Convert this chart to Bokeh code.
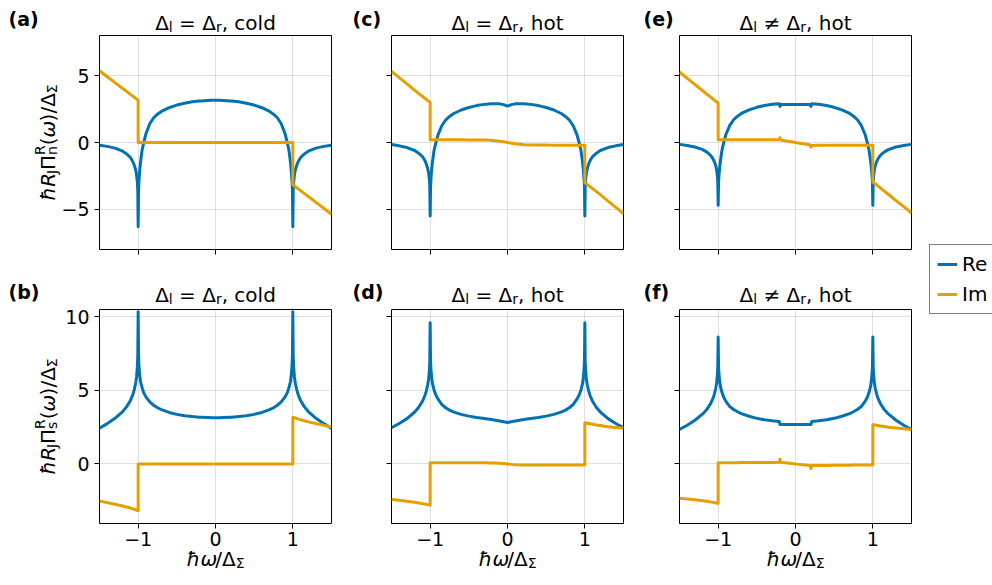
import math
from bokeh.plotting import figure
from bokeh.models import Range1d, FixedTicker, Legend, LegendItem, GridBox, ColumnDataSource
from bokeh.layouts import row, column
from bokeh.core.properties import value
from bokeh.embed import file_html
from bokeh.resources import INLINE

# ---------------- data ----------------
omega = [-1.5, -1.4, -1.3, -1.2, -1.15, -1.1, -1.07, -1.05, -1.03, -1.02, -1.01, -1.005, -1.0, -1.0,
         -0.995, -0.99, -0.98, -0.97, -0.95, -0.93, -0.9, -0.85, -0.8, -0.75, -0.7, -0.6, -0.5, -0.4, -0.3,
         -0.21, -0.2, -0.19, -0.1, -0.05,
         0.0,
         0.05, 0.1, 0.19, 0.2, 0.21, 0.3, 0.4, 0.5, 0.6, 0.7, 0.75, 0.8, 0.85, 0.9, 0.93, 0.95, 0.97, 0.98,
         0.99, 0.995, 1.0, 1.0, 1.005, 1.01, 1.02, 1.03, 1.05, 1.07, 1.1, 1.15, 1.2, 1.3, 1.4, 1.5]

# (a) normal part, equal gaps, cold
re_a = [-0.2, -0.29, -0.42, -0.65, -0.85, -1.12, -1.42, -1.7, -2.1, -2.45, -3.0, -3.6, -6.3, -6.3,
        -3.6, -2.9, -2.1, -1.5, -0.6, -0.05, 0.65, 1.4, 1.85, 2.12, 2.32, 2.6, 2.8, 2.94, 3.04,
        3.1, 3.1, 3.11, 3.14, 3.15,
        3.15,
        3.15, 3.14, 3.11, 3.1, 3.1, 3.04, 2.94, 2.8, 2.6, 2.32, 2.12, 1.85, 1.4, 0.65, -0.05, -0.6, -1.5, -2.1,
        -2.9, -3.6, -6.3, -6.3, -3.6, -3.0, -2.45, -2.1, -1.7, -1.42, -1.12, -0.85, -0.65, -0.42, -0.29, -0.2]
im_a = [5.36, 4.92, 4.48, 4.04, 3.82, 3.6, 3.47, 3.38, 3.29, 3.25, 3.2, 3.18, 3.16, 0.0,
        0.0, 0.0, 0.0, 0.0, 0.0, 0.0, 0.0, 0.0, 0.0, 0.0, 0.0, 0.0, 0.0, 0.0, 0.0,
        0.0, 0.0, 0.0, 0.0, 0.0,
        0.0,
        0.0, 0.0, 0.0, 0.0, 0.0, 0.0, 0.0, 0.0, 0.0, 0.0, 0.0, 0.0, 0.0, 0.0, 0.0, 0.0, 0.0, 0.0,
        0.0, 0.0, 0.0, -3.16, -3.18, -3.2, -3.25, -3.29, -3.38, -3.47, -3.6, -3.82, -4.04, -4.48, -4.92, -5.36]

# (b) supercurrent part, equal gaps, cold
re_b = [2.43, 2.74, 3.1, 3.56, 3.88, 4.32, 4.7, 5.05, 5.55, 5.95, 6.65, 7.34, 10.35, 10.35,
        7.4, 6.71, 6.03, 5.62, 5.18, 4.87, 4.56, 4.22, 3.99, 3.82, 3.69, 3.5, 3.37, 3.28, 3.22,
        3.18, 3.17, 3.17, 3.15, 3.14,
        3.14,
        3.14, 3.15, 3.17, 3.17, 3.18, 3.22, 3.28, 3.37, 3.5, 3.69, 3.82, 3.99, 4.22, 4.56, 4.87, 5.18, 5.62, 6.03,
        6.71, 7.4, 10.35, 10.35, 7.34, 6.65, 5.95, 5.55, 5.05, 4.7, 4.32, 3.88, 3.56, 3.1, 2.74, 2.43]
im_b = [-2.52, -2.63, -2.74, -2.86, -2.93, -3.0, -3.05, -3.09, -3.13, -3.15, -3.16, -3.17, -3.18, 0.0,
        0.0, 0.0, 0.0, 0.0, 0.0, 0.0, 0.0, 0.0, 0.0, 0.0, 0.0, 0.0, 0.0, 0.0, 0.0,
        0.0, 0.0, 0.0, 0.0, 0.0,
        0.0,
        0.0, 0.0, 0.0, 0.0, 0.0, 0.0, 0.0, 0.0, 0.0, 0.0, 0.0, 0.0, 0.0, 0.0, 0.0, 0.0, 0.0, 0.0,
        0.0, 0.0, 0.0, 3.18, 3.17, 3.16, 3.15, 3.13, 3.09, 3.05, 3.0, 2.93, 2.86, 2.74, 2.63, 2.52]

# (c) normal part, equal gaps, hot
re_c = [-0.15, -0.25, -0.38, -0.6, -0.8, -1.05, -1.33, -1.6, -1.98, -2.3, -2.8, -3.3, -5.5, -5.5,
        -3.35, -2.75, -2.0, -1.45, -0.6, -0.1, 0.55, 1.25, 1.68, 1.95, 2.15, 2.43, 2.62, 2.76, 2.85,
        2.9, 2.9, 2.9, 2.89, 2.83,
        2.72,
        2.83, 2.89, 2.9, 2.9, 2.9, 2.85, 2.76, 2.62, 2.43, 2.15, 1.95, 1.68, 1.25, 0.55, -0.1, -0.6, -1.45, -2.0,
        -2.75, -3.35, -5.5, -5.5, -3.3, -2.8, -2.3, -1.98, -1.6, -1.33, -1.05, -0.8, -0.6, -0.38, -0.25, -0.15]
im_c = [5.32, 4.85, 4.38, 3.9, 3.67, 3.45, 3.31, 3.22, 3.13, 3.09, 3.04, 3.02, 3.0, 0.21,
        0.21, 0.21, 0.21, 0.21, 0.21, 0.21, 0.205, 0.205, 0.2, 0.2, 0.2, 0.2, 0.195, 0.19, 0.18,
        0.16, 0.155, 0.15, 0.1, 0.05,
        0.0,
        -0.05, -0.1, -0.15, -0.155, -0.16, -0.18, -0.19, -0.195, -0.2, -0.2, -0.2, -0.2, -0.205, -0.205, -0.21, -0.21, -0.21, -0.21,
        -0.21, -0.21, -0.21, -3.0, -3.02, -3.04, -3.09, -3.13, -3.22, -3.31, -3.45, -3.67, -3.9, -4.38, -4.85, -5.32]

# (d) supercurrent part, equal gaps, hot
re_d = [2.47, 2.75, 3.08, 3.53, 3.84, 4.26, 4.62, 4.95, 5.42, 5.78, 6.4, 6.95, 9.6, 9.6,
        7.0, 6.45, 5.84, 5.46, 5.03, 4.73, 4.42, 4.05, 3.82, 3.66, 3.54, 3.37, 3.25, 3.16, 3.09,
        3.02, 3.01, 3.0, 2.92, 2.87,
        2.82,
        2.87, 2.92, 3.0, 3.01, 3.02, 3.09, 3.16, 3.25, 3.37, 3.54, 3.66, 3.82, 4.05, 4.42, 4.73, 5.03, 5.46, 5.84,
        6.45, 7.0, 9.6, 9.6, 6.95, 6.4, 5.78, 5.42, 4.95, 4.62, 4.26, 3.84, 3.53, 3.08, 2.75, 2.47]
im_d = [-2.42, -2.47, -2.53, -2.61, -2.65, -2.7, -2.73, -2.75, -2.77, -2.78, -2.79, -2.79, -2.8, 0.08,
        0.08, 0.08, 0.08, 0.08, 0.08, 0.08, 0.08, 0.08, 0.08, 0.08, 0.08, 0.08, 0.08, 0.08, 0.075,
        0.07, 0.07, 0.07, 0.05, 0.03,
        0.0,
        -0.03, -0.05, -0.07, -0.07, -0.07, -0.075, -0.08, -0.08, -0.08, -0.08, -0.08, -0.08, -0.08, -0.08, -0.08, -0.08, -0.08, -0.08,
        -0.08, -0.08, -0.08, 2.8, 2.79, 2.79, 2.78, 2.77, 2.75, 2.73, 2.7, 2.65, 2.61, 2.53, 2.47, 2.42]

# (e) normal part, unequal gaps, hot
re_e = [-0.14, -0.22, -0.34, -0.53, -0.7, -0.94, -1.18, -1.42, -1.75, -2.05, -2.5, -2.95, -4.7, -4.7,
        -3.0, -2.5, -1.85, -1.35, -0.55, -0.05, 0.6, 1.28, 1.7, 1.97, 2.17, 2.44, 2.63, 2.77, 2.86,
        2.9, 2.7, 2.85, 2.85, 2.84,
        2.84,
        2.84, 2.85, 2.85, 2.7, 2.9, 2.86, 2.77, 2.63, 2.44, 2.17, 1.97, 1.7, 1.28, 0.6, -0.05, -0.55, -1.35, -1.85,
        -2.5, -3.0, -4.7, -4.7, -2.95, -2.5, -2.05, -1.75, -1.42, -1.18, -0.94, -0.7, -0.53, -0.34, -0.22, -0.14]
im_e = [5.27, 4.8, 4.34, 3.87, 3.64, 3.41, 3.27, 3.17, 3.08, 3.04, 2.99, 2.97, 2.95, 0.2,
        0.2, 0.2, 0.2, 0.2, 0.2, 0.2, 0.2, 0.2, 0.2, 0.2, 0.2, 0.2, 0.2, 0.2, 0.21,
        0.22, 0.36, 0.19, 0.1, 0.05,
        0.0,
        -0.05, -0.1, -0.19, -0.36, -0.22, -0.21, -0.2, -0.2, -0.2, -0.2, -0.2, -0.2, -0.2, -0.2, -0.2, -0.2, -0.2, -0.2,
        -0.2, -0.2, -0.2, -2.95, -2.97, -2.99, -3.04, -3.08, -3.17, -3.27, -3.41, -3.64, -3.87, -4.34, -4.8, -5.27]

# (f) supercurrent part, unequal gaps, hot
re_f = [2.34, 2.63, 2.97, 3.4, 3.68, 4.08, 4.42, 4.73, 5.18, 5.52, 6.1, 6.6, 8.63, 8.63,
        6.65, 6.15, 5.6, 5.25, 4.85, 4.55, 4.25, 3.9, 3.7, 3.55, 3.42, 3.24, 3.1, 3.0, 2.93,
        2.88, 2.68, 2.68, 2.68, 2.68,
        2.68,
        2.68, 2.68, 2.68, 2.68, 2.88, 2.93, 3.0, 3.1, 3.24, 3.42, 3.55, 3.7, 3.9, 4.25, 4.55, 4.85, 5.25, 5.6,
        6.15, 6.65, 8.63, 8.63, 6.6, 6.1, 5.52, 5.18, 4.73, 4.42, 4.08, 3.68, 3.4, 2.97, 2.63, 2.34]
im_f = [-2.34, -2.39, -2.44, -2.5, -2.54, -2.58, -2.61, -2.63, -2.65, -2.66, -2.67, -2.67, -2.68, 0.08,
        0.08, 0.08, 0.08, 0.08, 0.08, 0.08, 0.08, 0.08, 0.08, 0.08, 0.09, 0.09, 0.09, 0.1, 0.1,
        0.11, 0.32, 0.1, 0.06, 0.03,
        0.0,
        -0.03, -0.06, -0.1, -0.32, -0.11, -0.1, -0.1, -0.09, -0.09, -0.09, -0.08, -0.08, -0.08, -0.08, -0.08, -0.08, -0.08, -0.08,
        -0.08, -0.08, -0.08, 2.68, 2.67, 2.67, 2.66, 2.65, 2.63, 2.61, 2.58, 2.54, 2.5, 2.44, 2.39, 2.34]

panel_letters = ["(a)", "(b)", "(c)", "(d)", "(e)", "(f)"]
conditions = [("=", "cold"), ("=", "hot"), ("≠", "hot")]
x_ticks = [-1, 0, 1]
x_tick_labels = ["−1", "0", "1"]
y_ticks_top = [-5, 0, 5]
y_tick_labels_top = ["−5", "0", "5"]
y_ticks_bottom = [0, 5, 10]
y_tick_labels_bottom = ["0", "5", "10"]
series_names = ["Re", "Im"]

# ---------------- style / geometry ----------------
FONT = "DejaVu Sans"
BLUE = "#0072B2"
ORANGE = "#E69F00"
W_TOTAL, H_TOTAL = 992, 585
FW, FH = 232, 214
TICK_PX = 19
TXT_PX = 20
X_RANGE = (-1.5, 1.5)
Y_RANGES = [(-8.0, 8.0), (-4.05, 10.5)]
COL_LEFT = [99, 391, 679]     # frame left, screen px
ROW_TOP = [35, 309]           # frame top, screen px
BORDER_L = [99, 48, 42]
BORDER_R = [12, 14, 10]
BORDER_T = [35, 39]
BORDER_B = [21, 62]
LEG_W = W_TOTAL - (sum(BORDER_L) + sum(BORDER_R) + 3 * FW)
UP = 3.5   # nudge of the overlay text towards its "up" direction (px)

# DejaVu Sans advance widths (em)
WID = {' ': 0.318, '(': 0.390, ')': 0.390, ',': 0.318, '/': 0.337, '=': 0.838, '≠': 0.838,
       'c': 0.550, 'o': 0.612, 'l': 0.278, 'd': 0.635, 'h': 0.634, 't': 0.392, 'r': 0.411,
       'J': 0.295, 'R': 0.695, 'Δ': 0.684, 'Σ': 0.632, 'Π': 0.752, 'n': 0.634, 's': 0.521,
       'ω': 0.800, 'ħ': 0.634}


def text_w(s, size):
    return sum(WID.get(ch, 0.6) for ch in s) * size


def layout_pieces(pieces, size):
    out = []
    pos = 0.0
    pending = 0.0
    for text, kind, style in pieces:
        small = kind in ("sub", "sup", "sup_nb")
        fs = size * 0.7 if small else size
        shift = {"n": 0.0, "sub": -0.2, "sup": 0.42, "sup_nb": 0.42}[kind] * size
        w = text_w(text, fs)
        stripped = text.lstrip(" ")
        lead = text_w(text[:len(text) - len(stripped)], fs)
        out.append((stripped.rstrip(" "), fs, shift, style, pos + lead))
        if kind == "sup_nb":
            pending = w
        else:
            pos += max(w, pending)
            pending = 0.0
    return out, pos


T = dict(x=[], y=[], text=[], size=[], style=[], angle=[])


def put(sx, sy, text, fs, style="normal", angle=0.0):
    T["x"].append(sx)
    T["y"].append(sy)
    T["text"].append(text)
    T["size"].append(f"{fs:.1f}px")
    T["style"].append(style)
    T["angle"].append(angle)


def rich_h(pieces, cx, base, size):
    items, total = layout_pieces(pieces, size)
    start = cx - total / 2
    for text, fs, shift, style, pos in items:
        put(start + pos, base - shift - UP, text, fs, style)


def rich_v(pieces, base_x, cy, size):
    items, total = layout_pieces(pieces, size)
    start = cy + total / 2
    for text, fs, shift, style, pos in items:
        put(base_x - shift - UP, start - pos, text, fs, style, math.pi / 2)


data = {(0, 0): (re_a, im_a), (0, 1): (re_b, im_b), (1, 0): (re_c, im_c),
        (1, 1): (re_d, im_d), (2, 0): (re_e, im_e), (2, 1): (re_f, im_f)}

figs = {}
for ci in range(3):
    for ri in range(2):
        re_v, im_v = data[(ci, ri)]
        assert len(re_v) == len(omega) and len(im_v) == len(omega)
        p = figure(frame_width=FW, frame_height=FH, output_backend="svg", toolbar_location=None,
                   x_range=Range1d(*X_RANGE), y_range=Range1d(*Y_RANGES[ri]),
                   min_border_left=BORDER_L[ci], min_border_right=BORDER_R[ci],
                   min_border_top=BORDER_T[ri], min_border_bottom=BORDER_B[ri])
        p.background_fill_color = "white"
        p.border_fill_color = "white"
        p.outline_line_color = "black"
        p.outline_line_width = 1

        yt = y_ticks_top if ri == 0 else y_ticks_bottom
        ytl = y_tick_labels_top if ri == 0 else y_tick_labels_bottom
        p.xaxis.ticker = FixedTicker(ticks=x_ticks)
        p.yaxis.ticker = FixedTicker(ticks=yt)
        if ri == 1:
            p.xaxis.major_label_overrides = dict(zip(x_ticks, x_tick_labels))
        else:
            p.xaxis.major_label_overrides = {t: "" for t in x_ticks}
        if ci == 0:
            p.yaxis.major_label_overrides = dict(zip(yt, ytl))
        else:
            p.yaxis.major_label_overrides = {t: "" for t in yt}
        for ax in (p.xaxis[0], p.yaxis[0]):
            ax.axis_line_color = None
            ax.major_tick_in = 0
            ax.major_tick_out = 5
            ax.major_tick_line_color = "black"
            ax.minor_tick_line_color = None
            ax.major_label_text_font = FONT
            ax.major_label_text_font_size = f"{TICK_PX}px"
            ax.major_label_text_color = "black"
        p.xaxis.major_label_standoff = 3
        p.yaxis.major_label_standoff = 5
        p.xgrid.ticker = FixedTicker(ticks=x_ticks)
        p.ygrid.ticker = FixedTicker(ticks=yt)
        for g in (p.xgrid[0], p.ygrid[0]):
            g.grid_line_color = "black"
            g.grid_line_alpha = 0.12
            g.grid_line_width = 1

        p.line(omega, re_v, line_color=BLUE, line_width=3, line_join="round")
        p.line(omega, im_v, line_color=ORANGE, line_width=3, line_join="round")
        figs[(ci, ri)] = p

        fl, ft = COL_LEFT[ci], ROW_TOP[ri]
        # panel letter
        put([8, 352, 643][ci], [22, 295][ri] - UP, panel_letters[2 * ci + ri], 19, "bold")
        # title
        rel, temp = conditions[ci]
        tpieces = [("Δ", "n", "normal"), ("l", "sub", "normal"), (f" {rel} Δ", "n", "normal"),
                   ("r", "sub", "normal"), (f", {temp}", "n", "normal")]
        rich_h(tpieces, fl + FW / 2, ft + [-9, -11][ri], TXT_PX)
        # y label
        if ci == 0:
            sub = "n" if ri == 0 else "s"
            ypieces = [("ħR", "n", "italic"), ("J", "sub", "normal"), ("Π", "n", "normal"),
                       ("R", "sup_nb", "normal"), (sub, "sub", "normal"), ("(", "n", "normal"),
                       ("ω", "n", "italic"), (")/Δ", "n", "normal"), ("Σ", "sub", "normal")]
            rich_v(ypieces, 51, ft + FH / 2, TXT_PX)
        # x label
        if ri == 1:
            xpieces = [("ħω", "n", "italic"), ("/Δ", "n", "normal"), ("Σ", "sub", "normal")]
            rich_h(xpieces, fl + FW / 2, ft + FH + 39, TXT_PX)

# legend panel (right column)
leg = figure(width=LEG_W, height=H_TOTAL, output_backend="svg", toolbar_location=None,
             x_range=Range1d(0, 1), y_range=Range1d(0, 1),
             x_axis_location=None, y_axis_location=None,
             min_border_left=0, min_border_right=0, min_border_top=0, min_border_bottom=28)
leg.grid.visible = False
leg.outline_line_color = None
leg.background_fill_color = "white"
leg.border_fill_color = "white"
r_re = leg.line([5, 6], [5, 6], line_color=BLUE, line_width=3)
r_im = leg.line([5, 6], [5, 6], line_color=ORANGE, line_width=3)
legend = Legend(items=[LegendItem(label=series_names[0], renderers=[r_re]),
                       LegendItem(label=series_names[1], renderers=[r_im])],
                location="left", margin=8, padding=7, spacing=6,
                glyph_width=20, glyph_height=20, label_height=20, label_standoff=5,
                label_text_font=FONT, label_text_font_size=f"{TXT_PX}px", label_text_color="black",
                border_line_color="black", border_line_width=1, background_fill_alpha=1.0)
leg.add_layout(legend)

block = row(column(row(figs[(0, 0)], figs[(1, 0)], figs[(2, 0)]),
                   row(figs[(0, 1)], figs[(1, 1)], figs[(2, 1)])),
            leg)

# transparent text overlay covering the whole page
ov = figure(width=W_TOTAL, height=H_TOTAL, output_backend="svg", toolbar_location=None,
            x_range=Range1d(0, W_TOTAL), y_range=Range1d(H_TOTAL, 0),
            x_axis_location=None, y_axis_location=None,
            min_border_left=0, min_border_right=0, min_border_top=0, min_border_bottom=0)
ov.grid.visible = False
ov.outline_line_color = None
ov.background_fill_color = None
ov.border_fill_color = None
src = ColumnDataSource(T)
ov.text(x="x", y="y", text="text", source=src, text_font=value(FONT), text_font_size="size",
        text_font_style="style", angle="angle", text_align="left", text_baseline="alphabetic",
        text_line_height=1.0, text_color="black")

page = GridBox(children=[(block, 0, 0), (ov, 0, 0)], spacing=0)

open("out.html", "w").write(file_html(page, INLINE))
